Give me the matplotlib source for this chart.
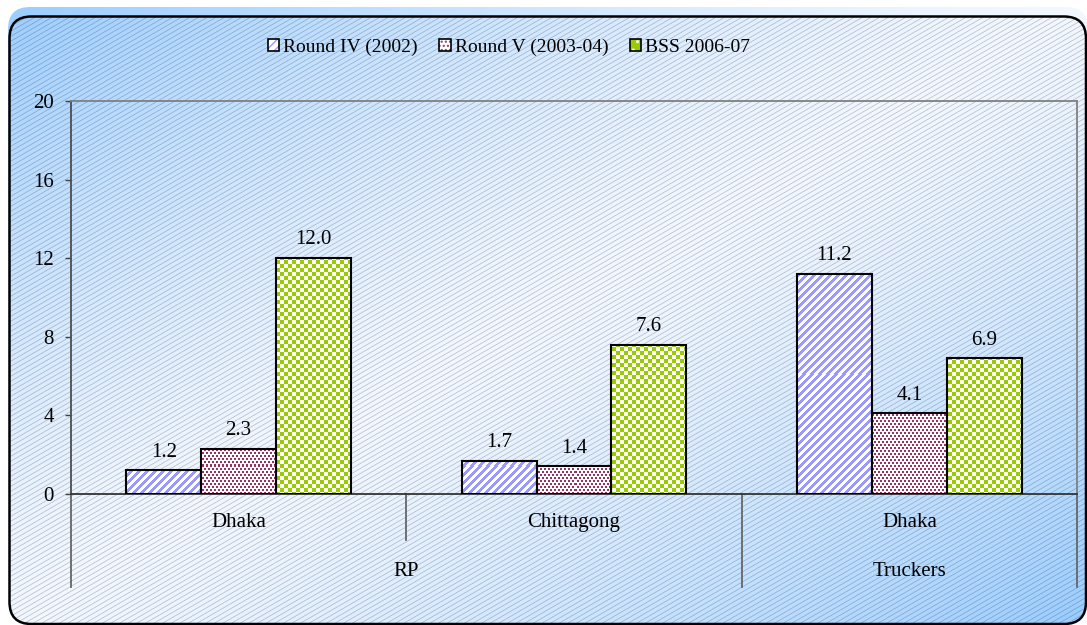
import numpy as np
import matplotlib.pyplot as plt
from matplotlib.colors import to_rgb
from matplotlib.patches import FancyBboxPatch, Patch

plt.rcParams["font.family"] = ["Liberation Serif", "DejaVu Serif"]
plt.rcParams["hatch.linewidth"] = 1.0

# prevalence by site and survey round
groups = ["Dhaka", "Chittagong", "Dhaka"]
populations = ["RP", "Truckers"]
population_groups = [(0, 1), (2, 2)]
series = ["Round IV (2002)", "Round V (2003-04)", "BSS 2006-07"]
round_iv = [1.2, 1.7, 11.2]
round_v = [2.3, 1.4, 4.1]
bss = [12.0, 7.6, 6.9]
yticks = [0, 4, 8, 12, 16, 20]

FS = 15
W, H = 1087, 625
fig = plt.figure(figsize=(W / 100, H / 100), dpi=100)

# full-figure layer for the backdrop and the fill textures
bg = fig.add_axes([0, 0, 1, 1], zorder=0)
bg.axis("off")

yy, xx = np.mgrid[0:H, 0:W].astype(float) + 0.5
t = (xx / W + yy / H) / 2
k = np.abs(t - 0.5) * 2
blue = np.array([0.60, 0.80, 1.00])
light = np.array([0.95, 0.97, 1.00])
grad = light + (blue - light) * (k ** 1.3)[..., None]

# thin diagonal lines over the chart area
d = (yy + 0.58 * xx) % 5.0
a = np.clip(1 - np.abs(d - 2.5), 0, 1)
textured = grad * (1 - 0.2 * a[..., None])


def to_img(arr):
    return (np.clip(arr, 0, 1) * 255).astype(np.uint8)


def two_tone(mask, fg, bgc="#ffffff"):
    return to_img(np.where(mask[..., None], np.array(to_rgb(fg)), np.array(to_rgb(bgc))))


xi = np.floor(xx).astype(int)
yi = np.floor(yy).astype(int)
stripes = ((xi + yi) % 8) < 4
dots = ((yi % 3) < 2) & (((xi + 2 * ((yi // 3) % 2)) % 4) < 2)
checks = ((xi // 4 + yi // 4) % 2) == 0
fills = [
    two_tone(stripes, "#9999ff"),
    two_tone(dots, "#993366"),
    two_tone(checks, "#99cc00"),
]

shadow = FancyBboxPatch((8, 7), 1080, 600, boxstyle="round,pad=0,rounding_size=22",
                        facecolor="none", edgecolor="none")
box = FancyBboxPatch((9.5, 16.5), 1076.5, 607.5, boxstyle="round,pad=0,rounding_size=22",
                     facecolor="none", edgecolor="black", linewidth=1.8, zorder=4)
bg.add_patch(shadow)
bg.add_patch(box)
im = bg.imshow(to_img(grad), extent=(0, W, H, 0), interpolation="nearest", zorder=1)
im.set_clip_path(shadow)
im = bg.imshow(to_img(textured), extent=(0, W, H, 0), interpolation="nearest", zorder=1)
im.set_clip_path(box)

# plot area
ax = fig.add_axes([71 / W, 1 - 494 / H, (1077 - 71) / W, (494 - 101) / H], zorder=1)
ax.patch.set_visible(False)

x = np.arange(len(groups))
w = 75 / 336
for i, vals in enumerate([round_iv, round_v, bss]):
    bars = ax.bar(x + (i - 1) * w, vals, w, facecolor="none", edgecolor="black",
                  linewidth=1.5, zorder=3)
    for b, v in zip(bars, vals):
        im = bg.imshow(fills[i], extent=(0, W, H, 0), interpolation="nearest", zorder=2)
        im.set_clip_path(b)
        ax.annotate(f"{v:.1f}", (b.get_x() + b.get_width() / 2, v), xytext=(0, 10),
                    textcoords="offset points", ha="center", va="baseline", fontsize=FS)
bg.set_aspect("auto")
bg.set_xlim(0, W)
bg.set_ylim(H, 0)

ax.set_xlim(-0.5, len(groups) - 0.5)
ax.set_ylim(0, 20)
ax.set_yticks(yticks)
ax.tick_params(axis="y", direction="out", length=4.5, width=1, color="#404040",
               pad=8, labelsize=FS)
ax.set_xticks(x, groups)
ax.tick_params(axis="x", length=0, pad=14, labelsize=FS)
for side in ["top", "right"]:
    ax.spines[side].set_color("#808080")
    ax.spines[side].set_linewidth(1.3)
ax.spines["left"].set_color("#4d4d4d")
ax.spines["left"].set_linewidth(1.3)
ax.spines["bottom"].set_color("#333333")
ax.spines["bottom"].set_linewidth(1.3)

# two-level category axis: short ticks between sites, long between populations
axis_h = 494 - 101
long_edges = {-0.5, len(groups) - 0.5} | {end + 0.5 for _, end in population_groups}
for e in np.arange(len(groups) + 1) - 0.5:
    depth = 93 if e in long_edges else 46
    ax.plot([e, e], [0, -depth / axis_h], color="#666666", lw=1.3,
            transform=ax.get_xaxis_transform(), clip_on=False)
for name, (start, end) in zip(populations, population_groups):
    ax.text((start + end) / 2, -77 / axis_h, name, transform=ax.get_xaxis_transform(),
            ha="center", va="center", fontsize=FS)

handles = [
    (Patch(facecolor="white", edgecolor="#9999ff", hatch="////", lw=0),
     Patch(facecolor="none", edgecolor="black", lw=1.2)),
    (Patch(facecolor="white", edgecolor="#993366", hatch="....", lw=0),
     Patch(facecolor="none", edgecolor="black", lw=1.2)),
    (Patch(facecolor="#99cc00", edgecolor="white", hatch="..", lw=0),
     Patch(facecolor="none", edgecolor="black", lw=1.2)),
]
fig.legend(handles, series, loc="center", bbox_to_anchor=(509 / W, 1 - 47 / H), ncol=3,
           frameon=False, fontsize=14, handlelength=0.6, handleheight=0.6,
           handletextpad=0.2, columnspacing=1.1)

fig.savefig("out.png", dpi=100)
